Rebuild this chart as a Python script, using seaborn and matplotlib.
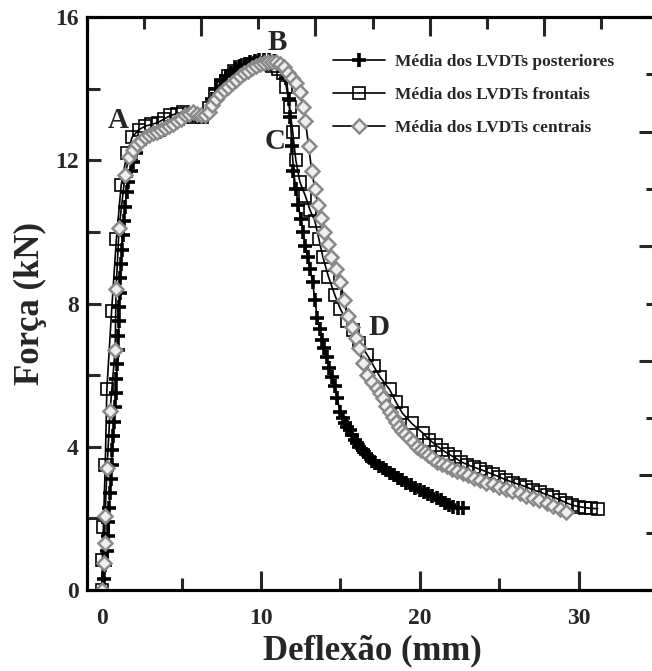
import matplotlib
matplotlib.use("Agg")
import matplotlib.pyplot as plt
from matplotlib.ticker import MultipleLocator, NullFormatter
import seaborn as sns
import pandas as pd

# Force-deflection curves (mean of each LVDT group)
post_x = [0, 0.1, 0.2, 0.3, 0.35, 0.4, 0.45, 0.5, 0.55, 0.6, 0.65, 0.7, 0.75, 0.8, 0.85,
          0.9, 0.95, 1.0, 1.03, 1.06, 1.08, 1.1, 1.15, 1.2, 1.25, 1.3, 1.38, 1.45, 1.55,
          1.65, 1.8, 1.95, 2.15, 2.4, 2.7, 3.0, 3.3, 3.6, 3.9, 4.2, 4.5, 4.8, 5.1, 5.4,
          5.7, 6.0, 6.3, 6.6, 6.9, 7.2, 7.5, 7.8, 8.1, 8.4, 8.7, 9.0, 9.3, 9.6, 9.9, 10.2,
          10.5, 10.8, 11.1, 11.4, 11.6, 11.75, 11.85, 11.95, 12.05, 12.2, 12.35, 12.5,
          12.65, 12.8, 12.95, 13.1, 13.25, 13.4, 13.55, 13.7, 13.85, 14.0, 14.15, 14.3,
          14.5, 14.65, 14.8, 15.0, 15.15, 15.3, 15.45, 15.6, 15.75, 15.9, 16.05, 16.2,
          16.4, 16.6, 16.8, 17.0, 17.2, 17.45, 17.7, 17.9, 18.15, 18.4, 18.65, 18.9, 19.15,
          19.45, 19.7, 20.0, 20.25, 20.5, 20.8, 21.1, 21.35, 21.6, 21.85, 22.1, 22.4, 22.7]
post_y = [0, 0.3, 0.7, 1.1, 1.5, 1.9, 2.3, 2.7, 3.1, 3.5, 3.9, 4.3, 4.7, 5.1, 5.5, 5.9,
          6.3, 6.7, 7.1, 7.5, 7.9, 8.3, 8.7, 9.1, 9.5, 9.9, 10.3, 10.7, 11.1, 11.4, 11.7,
          11.95, 12.2, 12.45, 12.6, 12.7, 12.75, 12.8, 12.85, 12.95, 13.0, 13.1, 13.15,
          13.2, 13.25, 13.25, 13.2, 13.3, 13.7, 14.0, 14.2, 14.35, 14.45, 14.55, 14.62,
          14.7, 14.74, 14.77, 14.8, 14.8, 14.8, 14.77, 14.7, 14.5, 14.3, 13.7, 13.2, 12.4,
          11.7, 11.2, 10.75, 10.35, 10.0, 9.6, 9.3, 8.95, 8.6, 8.1, 7.6, 7.3, 6.98, 6.75,
          6.5, 6.2, 5.95, 5.7, 5.35, 4.97, 4.8, 4.65, 4.55, 4.47, 4.32, 4.2, 4.1, 4.0, 3.9,
          3.8, 3.7, 3.6, 3.55, 3.47, 3.4, 3.35, 3.27, 3.2, 3.13, 3.07, 3.0, 2.93, 2.86, 2.8,
          2.74, 2.68, 2.62, 2.57, 2.5, 2.44, 2.38, 2.32, 2.3, 2.29]

front_x = [0, 0.02, 0.08, 0.2, 0.3, 0.6, 0.9, 1.2, 1.57, 1.9, 2.3, 2.7, 3.1, 3.5, 3.9, 4.3,
           4.7, 5.1, 5.5, 5.9, 6.3, 6.7, 7.1, 7.5, 7.9, 8.3, 8.7, 9.1, 9.5, 9.9, 10.3, 10.7,
           11.1, 11.4, 11.6, 11.8, 12.0, 12.2, 12.45, 12.8, 13.1, 13.4, 13.65, 13.9, 14.25,
           14.65, 15.0, 15.4, 15.8, 16.2, 16.7, 17.1, 17.5, 18.1, 18.5, 18.9, 19.5, 20.2,
           20.6, 21.0, 21.4, 21.8, 22.2, 22.6, 23.0, 23.4, 23.8, 24.2, 24.6, 25.0, 25.4,
           25.9, 26.3, 26.7, 27.1, 27.6, 28.0, 28.4, 28.8, 29.2, 29.6, 30.0, 30.4, 30.8, 31.2]
front_y = [0, 0.84, 1.76, 3.5, 5.6, 7.8, 9.8, 11.3, 12.2, 12.65, 12.85, 12.95, 13.0, 13.05,
           13.15, 13.25, 13.3, 13.35, 13.3, 13.2, 13.2, 13.45, 13.85, 14.1, 14.35, 14.5, 14.6,
           14.65, 14.7, 14.72, 14.7, 14.62, 14.55, 14.45, 14.05, 13.5, 12.8, 12.0, 11.4,
           11.0, 10.6, 10.3, 9.8, 9.3, 8.75, 8.24, 7.85, 7.5, 7.26, 6.9, 6.56, 6.25, 5.95,
           5.6, 5.25, 4.94, 4.65, 4.38, 4.2, 4.05, 3.92, 3.8, 3.7, 3.58, 3.5, 3.43, 3.37,
           3.3, 3.23, 3.16, 3.08, 3.0, 2.94, 2.88, 2.8, 2.73, 2.66, 2.6, 2.52, 2.44, 2.37,
           2.33, 2.3, 2.28, 2.27]

cent_x = [0, 0.13, 0.16, 0.19, 0.31, 0.5, 0.82, 0.88, 1.07, 1.45, 1.7, 1.95, 2.2, 2.45, 2.7,
          2.95, 3.2, 3.45, 3.7, 3.95, 4.2, 4.45, 4.7, 4.95, 5.2, 5.45, 5.7, 5.95, 6.2, 6.45,
          6.7, 6.95, 7.2, 7.45, 7.7, 7.95, 8.2, 8.45, 8.7, 8.95, 9.2, 9.45, 9.7, 9.95, 10.2,
          10.45, 10.7, 10.95, 11.2, 11.45, 11.7, 11.95, 12.2, 12.45, 12.65, 12.8, 13.0, 13.2,
          13.4, 13.6, 13.8, 14.0, 14.2, 14.4, 14.7, 15.0, 15.25, 15.5, 15.75, 16.0, 16.2,
          16.45, 16.7, 17.0, 17.3, 17.5, 17.7, 17.9, 18.1, 18.3, 18.5, 18.7, 18.9, 19.1,
          19.3, 19.55, 19.8, 20.05, 20.3, 20.55, 20.8, 21.1, 21.4, 21.7, 22.0, 22.35, 22.7,
          23.05, 23.4, 23.8, 24.2, 24.6, 25.0, 25.4, 25.8, 26.3, 26.7, 27.1, 27.5, 28.0,
          28.4, 28.8, 29.2]
cent_y = [0, 0.75, 1.3, 2.07, 3.4, 5.0, 6.7, 8.4, 10.1, 11.6, 12.1, 12.3, 12.45, 12.55,
          12.65, 12.7, 12.75, 12.8, 12.85, 12.9, 12.95, 13.0, 13.1, 13.15, 13.25, 13.3,
          13.35, 13.3, 13.25, 13.25, 13.35, 13.55, 13.7, 13.85, 13.95, 14.05, 14.15, 14.25,
          14.35, 14.45, 14.5, 14.58, 14.63, 14.68, 14.72, 14.75, 14.75, 14.73, 14.68, 14.6,
          14.45, 14.3, 14.15, 13.9, 13.5, 13.1, 12.4, 11.7, 11.2, 10.75, 10.4, 10.0, 9.65,
          9.3, 8.95, 8.6, 8.1, 7.65, 7.35, 7.04, 6.75, 6.35, 6.0, 5.8, 5.65, 5.5, 5.35, 5.15,
          4.97, 4.83, 4.7, 4.55, 4.45, 4.35, 4.25, 4.12, 4.0, 3.92, 3.84, 3.76, 3.68, 3.58,
          3.52, 3.45, 3.39, 3.33, 3.28, 3.2, 3.13, 3.06, 3.0, 2.95, 2.88, 2.82, 2.76, 2.7,
          2.63, 2.56, 2.5, 2.43, 2.35, 2.27, 2.18]

labels = ["Média dos LVDTs posteriores", "Média dos LVDTs frontais", "Média dos LVDTs centrais"]
point_labels = ["A", "B", "C", "D"]
point_x = [1.0, 11.0, 10.9, 17.4]
point_y = [13.1, 15.3, 12.53, 7.32]

sns.set_style("white")
plt.rcParams["font.family"] = ["Liberation Serif", "DejaVu Serif"]
plt.rcParams["font.weight"] = "bold"
plt.rcParams["axes.labelweight"] = "bold"

fig = plt.figure(figsize=(6.52, 6.71), dpi=100)
ax = fig.add_axes([87 / 652, 1 - 590 / 671, 571 / 652, 573 / 671])

df_post = pd.DataFrame({"x": post_x, "y": post_y})
df_front = pd.DataFrame({"x": front_x, "y": front_y})
df_cent = pd.DataFrame({"x": cent_x, "y": cent_y})

sns.lineplot(data=df_post, x="x", y="y", sort=False, estimator=None, ax=ax,
             color="black", lw=1.2, marker="+", markersize=10, mew=2.6,
             mec="black", label=labels[0])
sns.lineplot(data=df_front, x="x", y="y", sort=False, estimator=None, ax=ax,
             color="black", lw=1.2, marker="s", markersize=8, mew=1.2,
             mfc="none", mec="black", label=labels[1])
sns.lineplot(data=df_cent, x="x", y="y", sort=False, estimator=None, ax=ax,
             color="black", lw=1.2, marker="D", markersize=7, mew=1.8,
             mfc="#efefef", mec="#8a8a8a", label=labels[2])

ax.set_xlim(-0.95, 35)
ax.set_ylim(0, 16)
ax.xaxis.set_major_locator(MultipleLocator(10))
ax.xaxis.set_minor_locator(MultipleLocator(5))
ax.yaxis.set_major_locator(MultipleLocator(4))
ax.yaxis.set_minor_locator(MultipleLocator(2))
ax.tick_params(axis="x", which="major", direction="in", length=14, width=2.2,
               labelsize=17, pad=13)
ax.tick_params(axis="x", which="minor", direction="in", length=8.5, width=2.2)
ax.tick_params(axis="y", which="major", direction="in", length=10, width=2.2,
               labelsize=17, pad=6)
ax.tick_params(axis="y", which="minor", direction="in", length=9, width=2.2)
for lab in ax.get_xticklabels() + ax.get_yticklabels():
    lab.set_fontweight("bold")
for sp in ax.spines.values():
    sp.set_linewidth(2.2)
    sp.set_color("black")

ax.set_xlabel("Deflexão (mm)", fontsize=25, fontweight="bold", labelpad=4)
ax.set_ylabel("Força (kN)", fontsize=25, fontweight="bold", labelpad=6)

# unlabeled mirror scales on top and right
top = ax.twiny()
top.set_xlim(0, 5)
top.xaxis.set_major_locator(MultipleLocator(1))
top.xaxis.set_minor_locator(MultipleLocator(0.5))
top.xaxis.set_major_formatter(NullFormatter())
top.tick_params(axis="x", which="major", direction="in", length=14, width=2.2)
top.tick_params(axis="x", which="minor", direction="in", length=8.5, width=2.2)
right = ax.twinx()
right.set_ylim(0, 5)
right.yaxis.set_major_locator(MultipleLocator(1))
right.yaxis.set_minor_locator(MultipleLocator(0.5))
right.yaxis.set_major_formatter(NullFormatter())
right.tick_params(axis="y", which="major", direction="in", length=14, width=2.2)
right.tick_params(axis="y", which="minor", direction="in", length=8.5, width=2.2)
for a in (top, right):
    for sp in a.spines.values():
        sp.set_linewidth(2.2)

for t, px, py in zip(point_labels, point_x, point_y):
    ax.text(px, py, t, fontsize=21, fontweight="bold", ha="center", va="center")

leg = ax.legend(loc="upper left", bbox_to_anchor=(0.431, 0.935), frameon=False,
                prop={"family": "Liberation Serif", "weight": "bold", "size": 12.5},
                handlelength=3.0, handletextpad=0.55, labelspacing=0.95,
                borderpad=0, borderaxespad=0)
ax.set_zorder(top.get_zorder() + 2)
ax.patch.set_visible(False)

fig.savefig("out.png", dpi=100, facecolor="white")
